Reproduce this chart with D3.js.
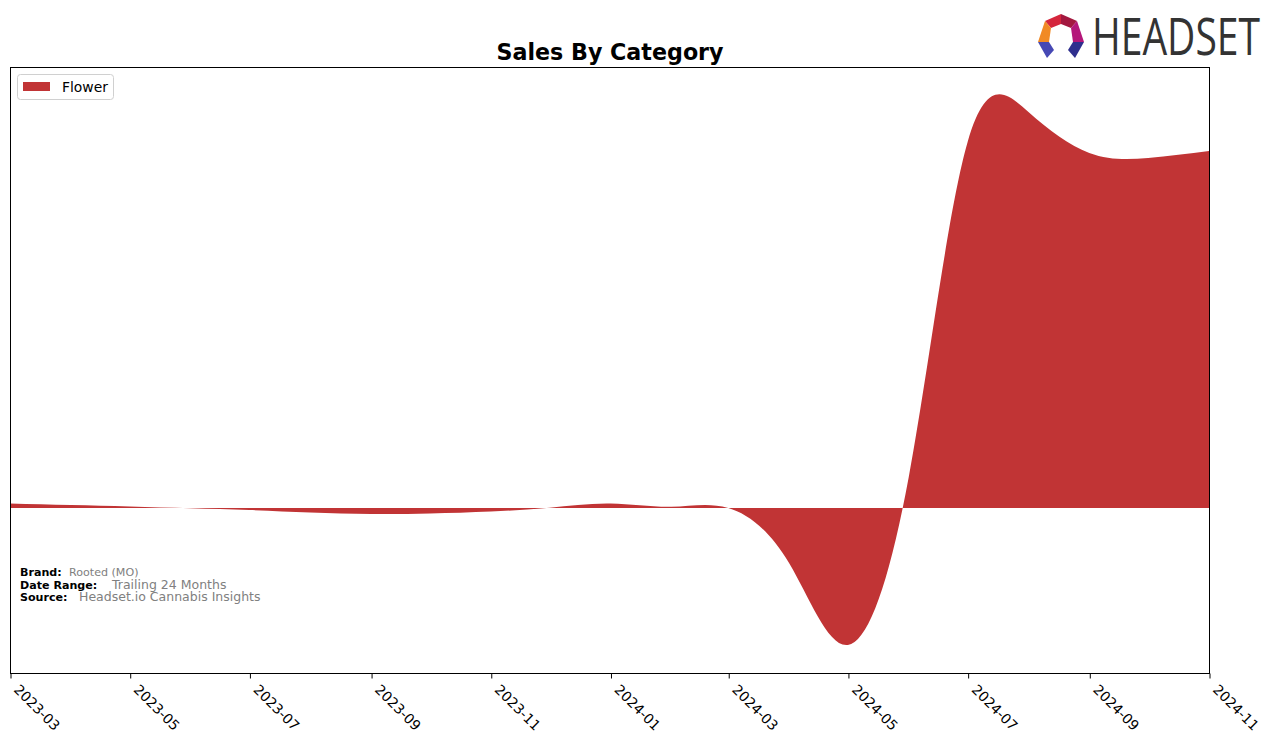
<!DOCTYPE html>
<html>
  <head>
    <script type="text/javascript" src="https://cdn.jsdelivr.net/npm/d3@7/dist/d3.min.js"></script>
    <style type="text/css">

html, body {
  margin: 0;
  background: #fff;
  font-family: "DejaVu Sans", sans-serif;
}

svg {
  display: block;
}

    </style>
  </head>
  <body>
    <div id="chart"></div>
    <script type="text/javascript">

// monthly points (arbitrary sales units, 0 = baseline)
var months = ["2023-03", "2023-04", "2023-05", "2023-06", "2023-07", "2023-08", "2023-09",
              "2023-10", "2023-11", "2023-12", "2024-01", "2024-02", "2024-03", "2024-04",
              "2024-05", "2024-06", "2024-07", "2024-08", "2024-09", "2024-10", "2024-11"];
var flowerValues = [4.5, 3, 1.5, -0.3, -2, -4.5, -6,
                    -5.5, -3.5, 0.3, 4.5, 1.2, 0, -55,
                    -137, 31, 366, 396, 355, 350, 357];
var categories = ["Flower"];
var colors = ["#c13435"];
var tickLabels = ["2023-03", "2023-05", "2023-07", "2023-09", "2023-11", "2024-01",
                  "2024-03", "2024-05", "2024-07", "2024-09", "2024-11"];

var width = 1276, height = 743;
var plotLeft = 10, plotRight = 1209, plotTop = 67, plotBottom = 673;

var parse = d3.timeParse("%Y-%m");

var svg = d3.select("#chart").append("svg")
    .attr("width", width)
    .attr("height", height);

var x = d3.scaleTime()
    .domain([parse(months[0]), parse(months[months.length - 1])])
    .range([plotLeft, plotRight]);

var y = d3.scaleLinear()
    .domain([-165, 441])
    .range([plotBottom, plotTop]);

var data = months.map(function(m, i) { return {date: parse(m), value: flowerValues[i]}; });

var area = d3.area()
    .curve(d3.curveNatural)
    .x(function(d) { return x(d.date); })
    .y0(y(0))
    .y1(function(d) { return y(d.value); });

svg.append("path")
    .datum(data)
    .attr("d", area)
    .style("fill", colors[0]);

// frame
svg.append("rect")
    .attr("x", plotLeft + 0.5)
    .attr("y", plotTop + 0.5)
    .attr("width", plotRight - plotLeft)
    .attr("height", plotBottom - plotTop)
    .style("fill", "none")
    .style("stroke", "#000")
    .style("stroke-width", 1);

// x axis
var axis = svg.append("g")
    .attr("transform", "translate(0.5," + (plotBottom + 0.5) + ")")
    .call(d3.axisBottom(x)
        .tickValues(tickLabels.map(parse))
        .tickFormat(d3.timeFormat("%Y-%m"))
        .tickSize(5)
        .tickSizeOuter(0));

axis.select(".domain").remove();
axis.selectAll(".tick line").style("stroke", "#000");
axis.selectAll(".tick text")
    .attr("x", 0)
    .attr("y", 0)
    .attr("dy", 0)
    .attr("transform", "translate(2,17) rotate(45)")
    .style("text-anchor", "start")
    .style("font-family", "DejaVu Sans")
    .style("font-size", "13.9px")
    .style("fill", "#000");

// title
svg.append("text")
    .attr("x", 610)
    .attr("y", 60)
    .attr("text-anchor", "middle")
    .style("font-family", "DejaVu Sans")
    .style("font-weight", "bold")
    .style("font-size", "22.2px")
    .text("Sales By Category");

// legend
var legend = svg.append("g");
legend.append("rect")
    .attr("x", 17.5).attr("y", 74.5)
    .attr("width", 96).attr("height", 25)
    .attr("rx", 3)
    .style("fill", "#fff")
    .style("stroke", "#d0d0d0");
categories.forEach(function(c, i) {
  legend.append("rect")
      .attr("x", 23).attr("y", 82)
      .attr("width", 27).attr("height", 9)
      .style("fill", colors[i]);
  legend.append("text")
      .attr("x", 62).attr("y", 92)
      .style("font-size", "13.9px")
      .text(c);
});

// footer notes
var notes = [
  {label: "Brand:", value: "Rooted (MO)", y: 576, vx: 69, vs: "11.1px"},
  {label: "Date Range:", value: "Trailing 24 Months", y: 589, vx: 112, vs: "12.5px"},
  {label: "Source:", value: "Headset.io Cannabis Insights", y: 601, vx: 79, vs: "12.5px"}
];
notes.forEach(function(n) {
  svg.append("text")
      .attr("x", 20).attr("y", n.y)
      .style("font-weight", "bold")
      .style("font-size", "11.1px")
      .text(n.label);
  svg.append("text")
      .attr("x", n.vx).attr("y", n.y)
      .style("font-size", n.vs)
      .style("fill", "#808080")
      .text(n.value);
});

// logo
var logo = svg.append("g");
var pieces = [
  {pts: [[1045,21],[1061,14],[1061,24],[1051,28]], fill: "#d5263c"},
  {pts: [[1061,14],[1077,21],[1071,28],[1061,24]], fill: "#a3183f"},
  {pts: [[1045,21],[1051,28],[1049,42],[1038,42]], fill: "#f18a25"},
  {pts: [[1077,21],[1084,42],[1073,42],[1071,28]], fill: "#b4177a"},
  {pts: [[1038,42],[1049,42],[1054,50],[1047,58]], fill: "#4648b4"},
  {pts: [[1073,42],[1084,42],[1075,58],[1068,50]], fill: "#2f2f8e"}
];
pieces.forEach(function(p) {
  logo.append("polygon")
      .attr("points", p.pts.map(function(q) { return q.join(","); }).join(" "))
      .style("fill", p.fill);
});
// squeeze the wordmark horizontally so it spans 1092..1260
var word = logo.append("g").attr("transform", "translate(1092,55)");
var wordText = word.append("text")
    .attr("x", 0).attr("y", 0)
    .style("font-family", "Open Sans")
    .style("font-size", "51px")
    .style("fill", "#333")
    .text("HEADSET");
var natural = wordText.node().getComputedTextLength();
word.attr("transform", "translate(1092,55) scale(" + (168 / natural) + ",1)");

    </script>
  </body>
</html>
